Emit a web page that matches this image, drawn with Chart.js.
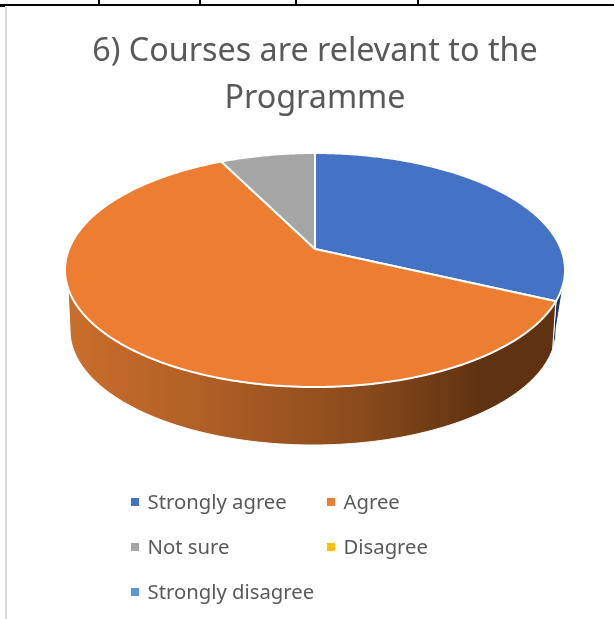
<!DOCTYPE html>
<html>
<head>
<meta charset="utf-8">
<style>
  html, body { margin: 0; background: #fff; }
  #wrap { position: relative; width: 614px; height: 619px; overflow: hidden; }
  canvas { position: absolute; left: 0; top: 0; }
  .rule { position: absolute; background: #000; }
</style>
<script src="https://cdn.jsdelivr.net/npm/chart.js@4"></script>
</head>
<body>
<div id="wrap">
  <canvas id="chart" width="614" height="619"></canvas>
  <!-- table borders of the page the chart was pasted from -->
  <div class="rule" style="left:0;top:4px;width:614px;height:2px"></div>
  <div class="rule" style="left:0;top:6px;width:5px;height:1px"></div>
  <div class="rule" style="left:98px;top:0;width:2px;height:4px"></div>
  <div class="rule" style="left:199px;top:0;width:2px;height:4px"></div>
  <div class="rule" style="left:295px;top:0;width:2px;height:4px"></div>
  <div class="rule" style="left:417px;top:0;width:2px;height:4px"></div>
  <div class="rule" style="left:5px;top:7px;width:2px;height:612px;background:#d9d9d9"></div>
</div>
<script>
const categories = ['Strongly agree', 'Agree', 'Not sure', 'Disagree', 'Strongly disagree'];
const shares = [32, 60.7, 7.3, 0, 0];
const colors = ['#4472C4', '#ED7D31', '#A5A5A5', '#FFC000', '#5B9BD5'];
const titleLines = ['6) Courses are relevant to the', 'Programme'];

const FONT = '"Noto Sans", sans-serif';
const TEXT_COLOR = '#595959';

// The disc is tilted with perspective: a circle maps to an ellipse whose
// centre is not the image of the circle's centre (d sets that offset).
const TOP_FACE = { cx: 315, cy: 270, rx: 250, ry: 117, d: -0.1795 };
const BOTTOM_FACE = { cx: 313, cy: 330, rx: 243, ry: 115, d: -0.28 };
const SIDE_FROM = 16 * Math.PI / 180;
const SIDE_TO = 161 * Math.PI / 180;

function project(face, angle) {
    const X = Math.cos(angle);
    const Y = Math.sin(angle);
    const w = 1 + face.d * Y;
    return [
        face.cx + face.rx * Math.sqrt(1 - face.d * face.d) * X / w,
        face.cy + face.ry * (Y + face.d) / w,
    ];
}

function traceEdge(ctx, face, from, to) {
    const steps = Math.max(1, Math.ceil(Math.abs(to - from) / 0.01));
    for (let i = 0; i <= steps; i++) {
        const [x, y] = project(face, from + (to - from) * i / steps);
        ctx.lineTo(x, y);
    }
}

function sideFill(ctx, index) {
    if (index === 0) return '#1F3864';
    const g = ctx.createLinearGradient(66, 0, 556, 0);
    g.addColorStop(0, '#CB6E2B');
    g.addColorStop(0.3, '#AE5E25');
    g.addColorStop(0.6, '#8A4A1C');
    g.addColorStop(0.85, '#5F3211');
    g.addColorStop(1, '#5F3211');
    return g;
}

// Replaces the flat pie drawing, still going by the arc angles Chart.js computed
const tiltedPie = {
    id: 'tiltedPie',
    beforeDatasetDraw(chart, args) {
        const { ctx } = chart;
        const arcs = chart.getDatasetMeta(args.index).data;
        ctx.save();
        ctx.strokeStyle = '#fff';
        ctx.lineJoin = 'round';

        ctx.lineWidth = 1;
        arcs.forEach((arc, i) => {
            const from = Math.max(arc.startAngle, SIDE_FROM);
            const to = Math.min(arc.endAngle, SIDE_TO);
            if (to <= from) return;
            ctx.beginPath();
            traceEdge(ctx, TOP_FACE, from, to);
            traceEdge(ctx, BOTTOM_FACE, to, from);
            ctx.closePath();
            ctx.fillStyle = sideFill(ctx, i);
            ctx.fill();
            ctx.stroke();
        });

        ctx.lineWidth = 2;
        arcs.forEach((arc, i) => {
            if (arc.endAngle <= arc.startAngle) return;
            ctx.beginPath();
            ctx.moveTo(TOP_FACE.cx, TOP_FACE.cy + TOP_FACE.ry * TOP_FACE.d);
            traceEdge(ctx, TOP_FACE, arc.startAngle, arc.endAngle);
            ctx.closePath();
            ctx.fillStyle = colors[i];
            ctx.fill();
            ctx.stroke();
        });
        ctx.restore();
        return false;
    },
};

// Two-column legend, Chart.js' own one can't line its columns up
const columnLegend = {
    id: 'columnLegend',
    afterDraw(chart) {
        const { ctx } = chart;
        ctx.save();
        ctx.font = '20.3px ' + FONT;
        ctx.textBaseline = 'middle';
        chart.data.labels.forEach((label, i) => {
            const col = i % 2;
            const row = Math.floor(i / 2);
            const x = col === 0 ? 131 : 327;
            const y = 502 + row * 45;
            ctx.fillStyle = colors[i];
            ctx.fillRect(x, y - 4, 8, 8);
            ctx.fillStyle = TEXT_COLOR;
            ctx.fillText(label, x + 16.5, y + 1);
        });
        ctx.restore();
    },
};

new Chart(document.getElementById('chart'), {
    type: 'pie',
    data: {
        labels: categories,
        datasets: [{ data: shares, backgroundColor: colors, borderColor: '#fff' }],
    },
    options: {
        responsive: false,
        animation: false,
        layout: { padding: { left: 16, top: 28 } },
        plugins: {
            legend: { display: false },
            tooltip: { enabled: false },
            title: {
                display: true,
                text: titleLines,
                color: TEXT_COLOR,
                font: { family: FONT, size: 32.3, weight: 'normal', lineHeight: 1.46 },
                padding: 0,
            },
        },
    },
    plugins: [tiltedPie, columnLegend],
});
</script>
</body>
</html>
